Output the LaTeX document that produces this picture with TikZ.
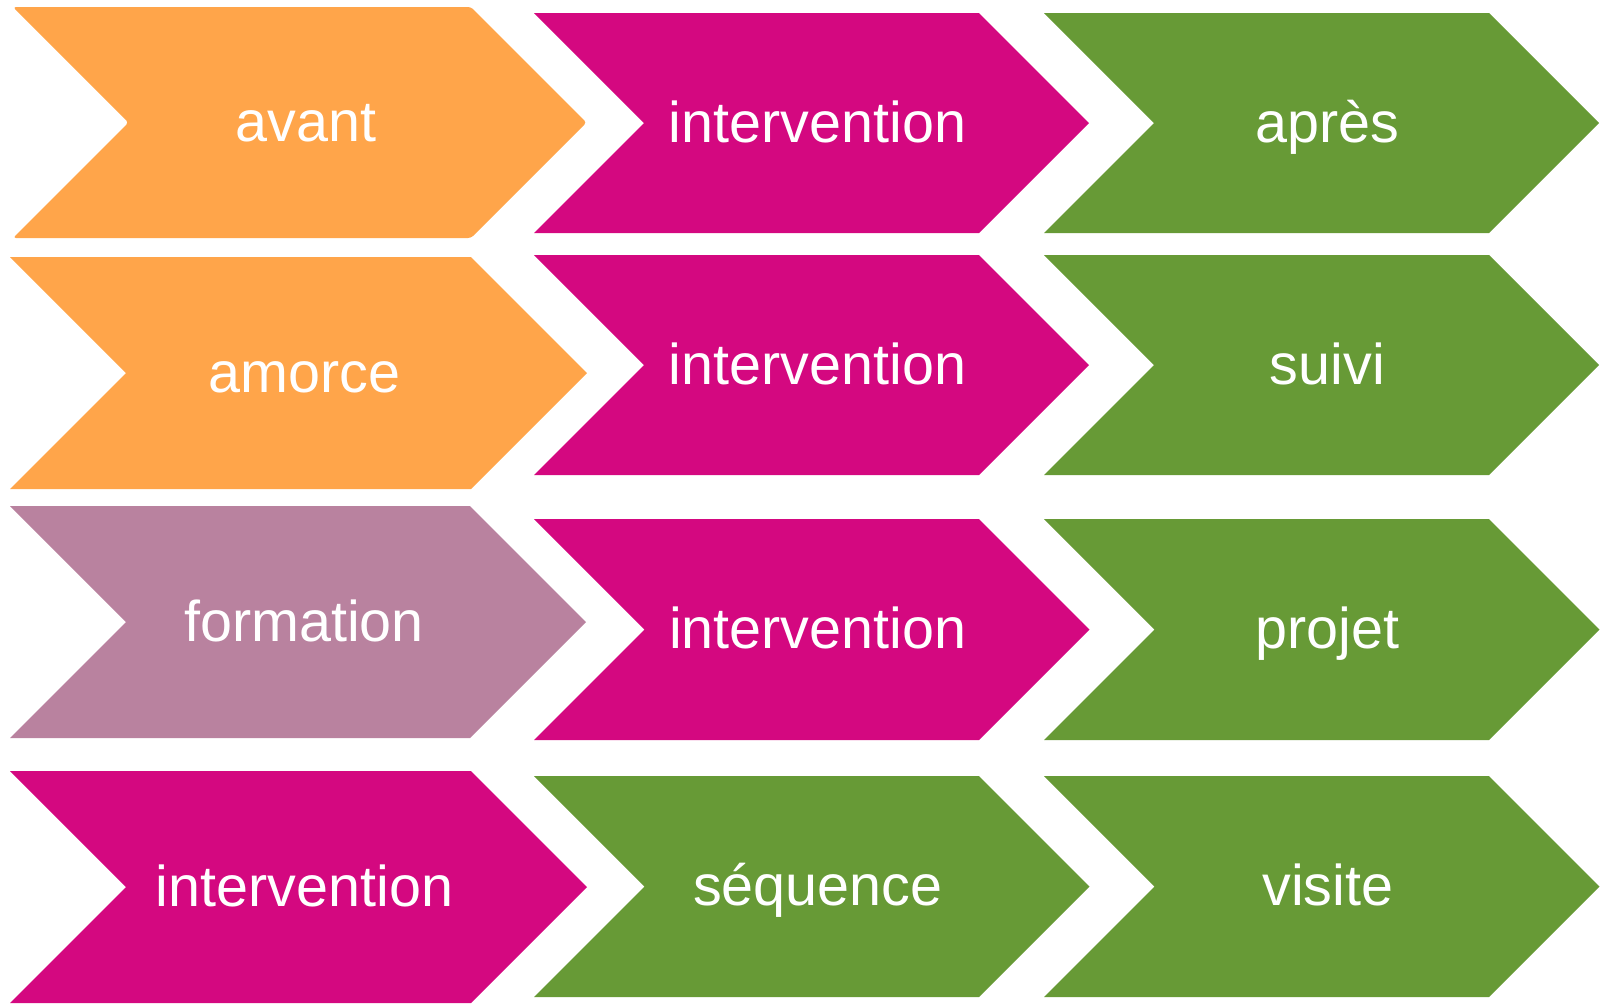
\documentclass[tikz,border=0pt]{standalone}
\usepackage{fontspec}
\setmainfont{Liberation Sans}
\definecolor{corange}{HTML}{FFA54A}
\definecolor{cmagenta}{HTML}{D40880}
\definecolor{cgreen}{HTML}{679A36}
\definecolor{cmauve}{HTML}{B9829F}
\tikzset{
  lbl/.style={text=white, anchor=base, inner sep=0pt, font=\fontsize{28.75}{34}\selectfont},
  chevfill/.style={draw=none}
}
% #1 name, #2 left, #3 corner, #4 top, #5 bottom, #6 colour, #7 text, #8 extra
\newcommand\mychev[8]{%
  \pgfmathsetmacro\hh{(#5-#4)/2}%
  \pgfmathsetmacro\mm{(#5+#4)/2}%
  \fill[chevfill,#6,#8] (#2,#4) -- (#3,#4) -- ({#3+\hh},\mm) -- (#3,#5) -- (#2,#5) -- ({#2+\hh},\mm) -- cycle;
  \node[lbl] (#1) at ({(#2+#3+\hh)/2+6},{\mm+19}) {#7};
}
\begin{document}
\begin{tikzpicture}[x=0.5pt,y=-0.5pt]
\useasboundingbox (0,0) rectangle (1603,1003);
% row 1
\mychev{a1}{13}{471}{7}{238}{corange}{avant}{rounded corners=1.5pt}
\mychev{a2}{534}{979}{13}{233}{cmagenta}{intervention}{}
\mychev{a3}{1044}{1489}{13}{233}{cgreen}{après}{}
% row 2
\mychev{b1}{10}{471}{257}{489}{corange}{amorce}{}
\mychev{b2}{534}{979}{255}{475}{cmagenta}{intervention}{}
\mychev{b3}{1044}{1489}{255}{475}{cgreen}{suivi}{}
% row 3
\mychev{c1}{10}{470}{506}{738}{cmauve}{formation}{}
\mychev{c2}{534}{979}{519}{740}{cmagenta}{intervention}{}
\mychev{c3}{1044}{1489}{519}{740}{cgreen}{projet}{}
% row 4
\mychev{d1}{10}{471}{771}{1003}{cmagenta}{intervention}{}
\mychev{d2}{534}{979}{776}{997}{cgreen}{séquence}{}
\mychev{d3}{1044}{1489}{776}{997}{cgreen}{visite}{}
\end{tikzpicture}
\end{document}
